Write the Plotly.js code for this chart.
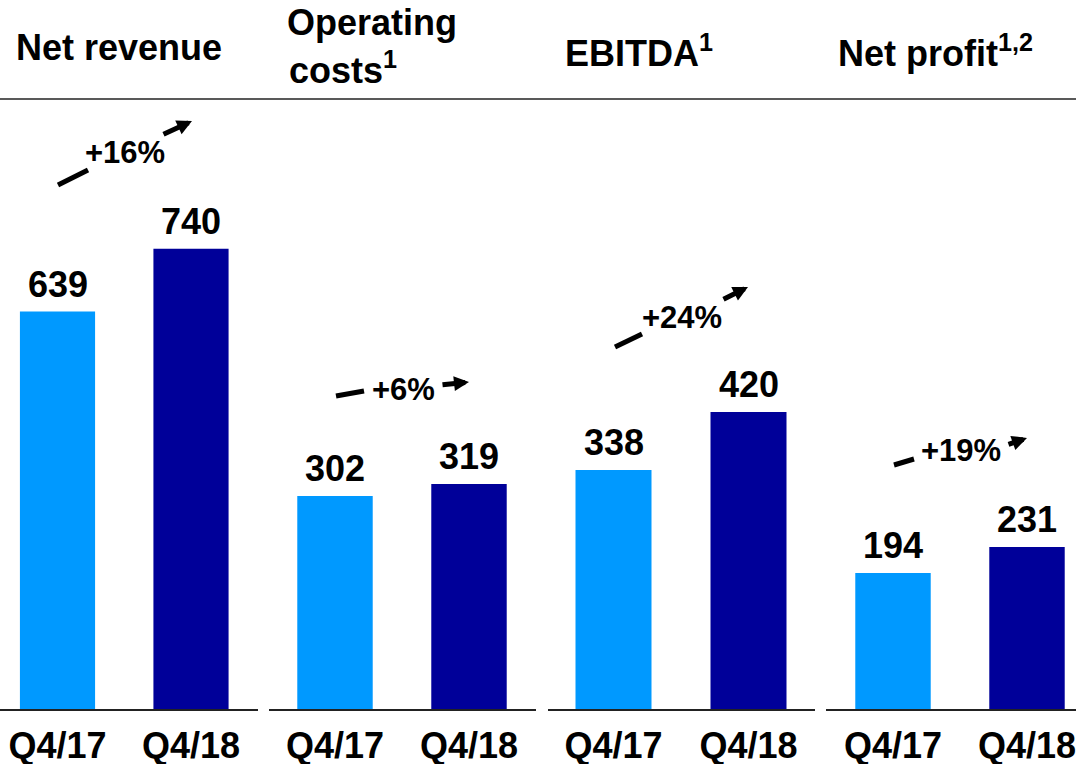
<!DOCTYPE html>
<html>
<head>
<meta charset="utf-8">
<script src="https://cdn.plot.ly/plotly-3.0.1.min.js"></script>
<style>html,body{margin:0;padding:0;background:#fff;}#chart{width:1076px;height:764px;}</style>
</head>
<body>
<div id="chart"></div>
<script>
// ---- data ----
const periods = ['Q4/17', 'Q4/18'];
const metricTitles = ['Net revenue', 'Operating', 'EBITDA<sup>1</sup>', 'Net profit<sup>1,2</sup>'];
const metricSubtitles = ['', 'costs<sup>1</sup>', '', ''];
const q417 = [639, 302, 338, 194];
const q418 = [740, 319, 420, 231];
const growth = ['+16%', '+6%', '+24%', '+19%'];

// ---- layout helpers (pixel geometry) ----
const W = 1076, H = 764, PLOT_H = 709;
const FONT = 'Liberation Sans, Arial, Helvetica, sans-serif';
const LIGHT = '#0099FF', DARK = '#000099';
const px = x => x / W;
const py = y => 1 - y / PLOT_H;

// panel domains (px) and x-ranges so bars sit where the reference has them
const panels = [
  {d: [0, 258],   c1: 57.5, s: 133.5, pxPerUnit: 0.622},
  {d: [269, 536], c1: 335,  s: 134,   pxPerUnit: 0.7053},
  {d: [548, 815], c1: 613.5,s: 135,   pxPerUnit: 0.7071},
  {d: [826, 1076],c1: 893,  s: 134,   pxPerUnit: 0.701}
];
const titlePos = [
  {x: 14, y: 25}, {x: 285, y: 0}, {x: 563, y: 26}, {x: 836, y: 26}
];
const subPos = [null, {x: 287, y: 42.5}, null, null];
const arrows = [
  {seg: [58, 185, 88, 170], tail: [162, 135], head: [192, 121], txt: [125, 152]},
  {seg: [336, 396, 364, 391], tail: [441, 385], head: [469, 382], txt: [403, 389]},
  {seg: [615, 347, 642, 334], tail: [722, 300], head: [748, 287], txt: [682, 317]},
  {seg: [894, 465, 914, 459], tail: [1007, 445], head: [1027, 438], txt: [961, 450]}
];

const traces = [];
const layout = {
  width: W, height: H,
  margin: {l: 0, r: 0, t: 0, b: H - PLOT_H},
  paper_bgcolor: '#fff', plot_bgcolor: 'rgba(0,0,0,0)',
  showlegend: false,
  font: {family: FONT, color: '#000'},
  annotations: [],
  shapes: [
    {type: 'line', xref: 'paper', yref: 'paper', x0: 0, x1: 1, y0: py(99), y1: py(99),
     line: {color: '#222', width: 1.5}}
  ]
};

panels.forEach((p, i) => {
  const n = i === 0 ? '' : String(i + 1);
  const xa = 'x' + n, ya = 'y' + n;
  const vals = [q417[i], q418[i]];
  traces.push({
    type: 'bar', x: periods, y: vals, xaxis: xa, yaxis: ya,
    marker: {color: [LIGHT, DARK], line: {width: 0}},
    width: 0.563, hoverinfo: 'skip', cliponaxis: false
  });
  layout['xaxis' + n] = {
    type: 'category', domain: [px(p.d[0]), px(p.d[1])], anchor: ya,
    range: [-(p.c1 - p.d[0]) / p.s, (p.d[1] - p.c1) / p.s],
    showline: true, linecolor: '#222', linewidth: 2, ticks: '', showgrid: false, zeroline: false,
    tickfont: {family: FONT, size: 36, weight: 'bold', color: '#000'},
    ticklabelstandoff: 4, fixedrange: true
  };
  layout['yaxis' + n] = {
    domain: [0, 1], anchor: xa, range: [0, PLOT_H / p.pxPerUnit],
    visible: false, showgrid: false, zeroline: false, fixedrange: true
  };
  // value labels
  vals.forEach((v, k) => {
    layout.annotations.push({
      xref: xa, yref: ya, x: periods[k], y: v, text: String(v), showarrow: false,
      yanchor: 'bottom', xanchor: 'center', yshift: 5,
      font: {family: FONT, size: 36, weight: 'bold', color: '#000'}
    });
  });
  // titles
  layout.annotations.push({
    xref: 'paper', yref: 'paper', x: px(titlePos[i].x), y: py(titlePos[i].y),
    xanchor: 'left', yanchor: 'top', text: metricTitles[i], showarrow: false,
    font: {family: FONT, size: 36, weight: 'bold', color: '#000'}
  });
  if (metricSubtitles[i]) {
    layout.annotations.push({
      xref: 'paper', yref: 'paper', x: px(subPos[i].x), y: py(subPos[i].y),
      xanchor: 'left', yanchor: 'top', text: metricSubtitles[i], showarrow: false,
      font: {family: FONT, size: 36, weight: 'bold', color: '#000'}
    });
  }
  // growth arrow
  const a = arrows[i];
  layout.shapes.push({
    type: 'line', xref: 'paper', yref: 'paper',
    x0: px(a.seg[0]), y0: py(a.seg[1]), x1: px(a.seg[2]), y1: py(a.seg[3]),
    line: {color: '#000', width: 5}
  });
  layout.annotations.push({
    xref: 'paper', yref: 'paper', x: px(a.head[0]), y: py(a.head[1]),
    ax: a.tail[0] - a.head[0], ay: a.tail[1] - a.head[1], text: '',
    showarrow: true, arrowhead: 2, arrowsize: 0.6, arrowwidth: 5, arrowcolor: '#000', standoff: 0
  });
  layout.annotations.push({
    xref: 'paper', yref: 'paper', x: px(a.txt[0]), y: py(a.txt[1]),
    xanchor: 'center', yanchor: 'middle', text: growth[i], showarrow: false,
    font: {family: FONT, size: 31, weight: 'bold', color: '#000'}
  });
});

Plotly.newPlot('chart', traces, layout, {staticPlot: true, displayModeBar: false});
</script>
</body>
</html>
